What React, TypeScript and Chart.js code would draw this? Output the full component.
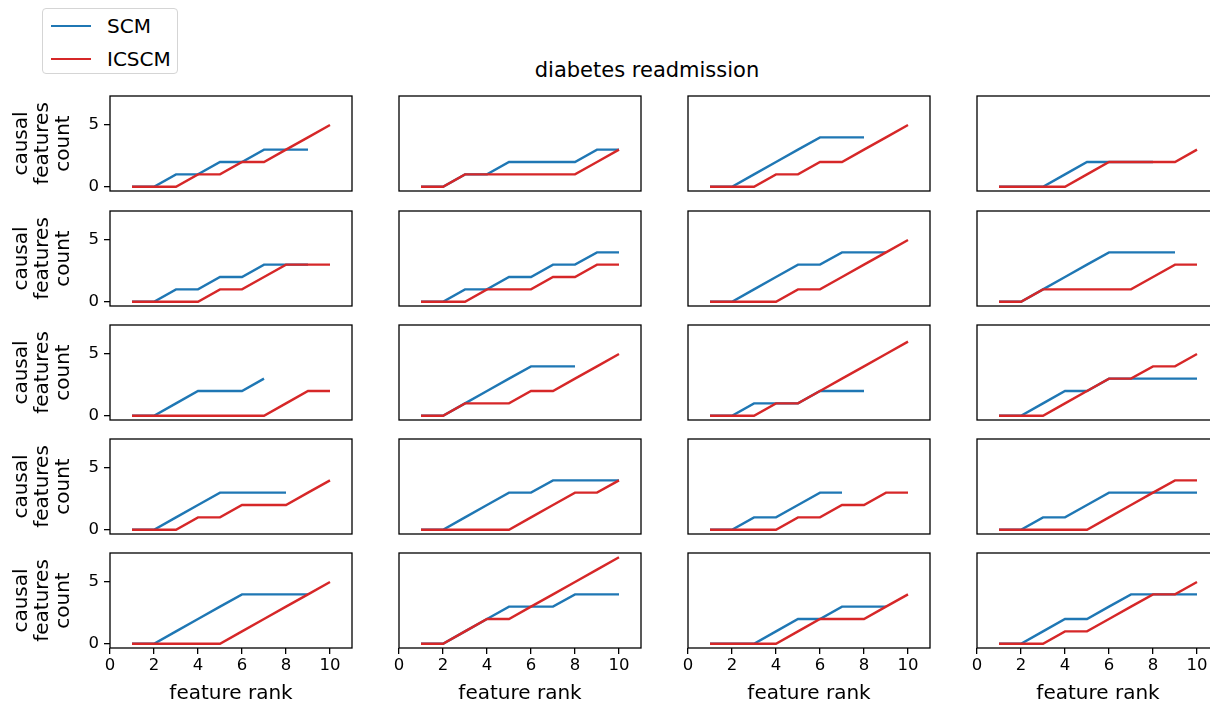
import React, { useEffect, useRef } from 'react';
import { Chart, registerables } from 'chart.js';

Chart.register(...registerables);

const FONT = "'DejaVu Sans', sans-serif";

const seriesNames = ['SCM', 'ICSCM'];
const seriesColors = ['#1f77b4', '#d62728'];
const chartTitle = 'diabetes readmission';
const xLabel = 'feature rank';
const yLabel = ['causal', 'features', 'count'];
const xTicks = [0, 2, 4, 6, 8, 10];
const yTicks = [0, 5];

// SCM series, panels in row-major order (5 rows x 4 columns), x = 1, 2, ...
const scmR1C1 = [0, 0, 1, 1, 2, 2, 3, 3, 3];
const scmR1C2 = [0, 0, 1, 1, 2, 2, 2, 2, 3, 3];
const scmR1C3 = [0, 0, 1, 2, 3, 4, 4, 4];
const scmR1C4 = [0, 0, 0, 1, 2, 2, 2, 2];
const scmR2C1 = [0, 0, 1, 1, 2, 2, 3, 3, 3];
const scmR2C2 = [0, 0, 1, 1, 2, 2, 3, 3, 4, 4];
const scmR2C3 = [0, 0, 1, 2, 3, 3, 4, 4, 4];
const scmR2C4 = [0, 0, 1, 2, 3, 4, 4, 4, 4];
const scmR3C1 = [0, 0, 1, 2, 2, 2, 3];
const scmR3C2 = [0, 0, 1, 2, 3, 4, 4, 4];
const scmR3C3 = [0, 0, 1, 1, 1, 2, 2, 2];
const scmR3C4 = [0, 0, 1, 2, 2, 3, 3, 3, 3, 3];
const scmR4C1 = [0, 0, 1, 2, 3, 3, 3, 3];
const scmR4C2 = [0, 0, 1, 2, 3, 3, 4, 4, 4, 4];
const scmR4C3 = [0, 0, 1, 1, 2, 3, 3];
const scmR4C4 = [0, 0, 1, 1, 2, 3, 3, 3, 3, 3];
const scmR5C1 = [0, 0, 1, 2, 3, 4, 4, 4, 4];
const scmR5C2 = [0, 0, 1, 2, 3, 3, 3, 4, 4, 4];
const scmR5C3 = [0, 0, 0, 1, 2, 2, 3, 3, 3];
const scmR5C4 = [0, 0, 1, 2, 2, 3, 4, 4, 4, 4];

// ICSCM series
const icR1C1 = [0, 0, 0, 1, 1, 2, 2, 3, 4, 5];
const icR1C2 = [0, 0, 1, 1, 1, 1, 1, 1, 2, 3];
const icR1C3 = [0, 0, 0, 1, 1, 2, 2, 3, 4, 5];
const icR1C4 = [0, 0, 0, 0, 1, 2, 2, 2, 2, 3];
const icR2C1 = [0, 0, 0, 0, 1, 1, 2, 3, 3, 3];
const icR2C2 = [0, 0, 0, 1, 1, 1, 2, 2, 3, 3];
const icR2C3 = [0, 0, 0, 0, 1, 1, 2, 3, 4, 5];
const icR2C4 = [0, 0, 1, 1, 1, 1, 1, 2, 3, 3];
const icR3C1 = [0, 0, 0, 0, 0, 0, 0, 1, 2, 2];
const icR3C2 = [0, 0, 1, 1, 1, 2, 2, 3, 4, 5];
const icR3C3 = [0, 0, 0, 1, 1, 2, 3, 4, 5, 6];
const icR3C4 = [0, 0, 0, 1, 2, 3, 3, 4, 4, 5];
const icR4C1 = [0, 0, 0, 1, 1, 2, 2, 2, 3, 4];
const icR4C2 = [0, 0, 0, 0, 0, 1, 2, 3, 3, 4];
const icR4C3 = [0, 0, 0, 0, 1, 1, 2, 2, 3, 3];
const icR4C4 = [0, 0, 0, 0, 0, 1, 2, 3, 4, 4];
const icR5C1 = [0, 0, 0, 0, 0, 1, 2, 3, 4, 5];
const icR5C2 = [0, 0, 1, 2, 2, 3, 4, 5, 6, 7];
const icR5C3 = [0, 0, 0, 0, 1, 2, 2, 2, 3, 4];
const icR5C4 = [0, 0, 0, 1, 1, 2, 3, 4, 4, 5];

const scmPanels = [
  scmR1C1, scmR1C2, scmR1C3, scmR1C4,
  scmR2C1, scmR2C2, scmR2C3, scmR2C4,
  scmR3C1, scmR3C2, scmR3C3, scmR3C4,
  scmR4C1, scmR4C2, scmR4C3, scmR4C4,
  scmR5C1, scmR5C2, scmR5C3, scmR5C4,
];
const icPanels = [
  icR1C1, icR1C2, icR1C3, icR1C4,
  icR2C1, icR2C2, icR2C3, icR2C4,
  icR3C1, icR3C2, icR3C3, icR3C4,
  icR4C1, icR4C2, icR4C3, icR4C4,
  icR5C1, icR5C2, icR5C3, icR5C4,
];

// layout (pixels)
const COLS = [110, 399, 688, 977];
const ROWS = [96, 211, 325, 439, 553];
const BOX_W = 242;
const BOX_H = 95;
const LEFT_W = 110;
const BOTTOM_H = 58;

const framePlugin = {
  id: 'frame',
  afterDraw(chart: any) {
    const { ctx, chartArea: a } = chart;
    ctx.save();
    ctx.strokeStyle = '#000';
    ctx.lineWidth = 1.3;
    ctx.strokeRect(a.left, a.top, a.right - a.left, a.bottom - a.top);
    ctx.restore();
  },
};

function Panel({ r, c }: { r: number; c: number }) {
  const ref = useRef<HTMLCanvasElement | null>(null);
  const isLeft = c === 0;
  const isBottom = r === ROWS.length - 1;
  const padL = isLeft ? 0 : 12;
  const padR = 4;
  const padT = 3;
  const padB = isBottom ? 0 : 3;
  const leftW = isLeft ? LEFT_W : 0;
  const bottomH = isBottom ? BOTTOM_H : 0;
  const width = padL + leftW + BOX_W + padR;
  const height = padT + BOX_H + bottomH + padB;
  const left = COLS[c] - leftW - padL;
  const top = ROWS[r] - padT;

  useEffect(() => {
    const idx = r * 4 + c;
    const toPts = (arr: number[]) => arr.map((v, i) => ({ x: i + 1, y: v }));
    const tickGrid = {
      display: true,
      drawOnChartArea: false,
      drawTicks: true,
      tickLength: 6,
      color: '#000',
      lineWidth: 1.3,
    };
    const chart = new Chart(ref.current as HTMLCanvasElement, {
      type: 'line',
      data: {
        datasets: [
          {
            label: seriesNames[0],
            data: toPts(scmPanels[idx]),
            borderColor: seriesColors[0],
            backgroundColor: seriesColors[0],
            borderWidth: 2.4,
            pointRadius: 0,
            tension: 0,
            fill: false,
            order: 1,
          },
          {
            label: seriesNames[1],
            data: toPts(icPanels[idx]),
            borderColor: seriesColors[1],
            backgroundColor: seriesColors[1],
            borderWidth: 2.4,
            pointRadius: 0,
            tension: 0,
            fill: false,
            order: 0,
          },
        ],
      },
      options: {
        animation: false,
        responsive: false,
        maintainAspectRatio: false,
        devicePixelRatio: 1,
        layout: { padding: { left: padL, right: padR, top: padT, bottom: padB } },
        plugins: { legend: { display: false }, tooltip: { enabled: false }, title: { display: false } },
        events: [],
        scales: {
          x: {
            type: 'linear',
            min: 0,
            max: 11,
            display: isBottom,
            afterBuildTicks: (s: any) => {
              s.ticks = xTicks.map((v) => ({ value: v }));
            },
            afterFit: (s: any) => {
              if (!isBottom) return;
              s.height = BOTTOM_H;
              s.paddingLeft = 0;
              s.paddingRight = 0;
            },
            ticks: {
              font: { family: FONT, size: 16.5 },
              color: '#000',
              padding: 2,
              maxRotation: 0,
              autoSkip: false,
            },
            grid: tickGrid,
            border: { display: false },
            title: {
              display: true,
              text: xLabel,
              color: '#000',
              font: { family: FONT, size: 20 },
              padding: { top: 0, bottom: 0 },
            },
          },
          y: {
            type: 'linear',
            min: -0.35,
            max: 7.35,
            display: isLeft,
            afterBuildTicks: (s: any) => {
              s.ticks = yTicks.map((v) => ({ value: v }));
            },
            afterFit: (s: any) => {
              if (!isLeft) return;
              s.width = LEFT_W;
              s.paddingTop = 0;
              s.paddingBottom = 0;
            },
            ticks: {
              font: { family: FONT, size: 16.5 },
              color: '#000',
              padding: 5,
              autoSkip: false,
            },
            grid: tickGrid,
            border: { display: false },
            title: {
              display: true,
              text: yLabel,
              color: '#000',
              font: { family: FONT, size: 20, lineHeight: '21px' },
              padding: { top: 11, bottom: 0 },
            },
          },
        },
      },
      plugins: [framePlugin],
    } as any);
    return () => chart.destroy();
  }, [r, c]);

  return (
    <canvas
      ref={ref}
      width={width}
      height={height}
      style={{ position: 'absolute', left, top, width, height }}
    />
  );
}

export default function App() {
  const panels: React.ReactNode[] = [];
  for (let r = 0; r < ROWS.length; r++) {
    for (let c = 0; c < COLS.length; c++) {
      panels.push(<Panel key={`${r}-${c}`} r={r} c={c} />);
    }
  }
  return (
    <div
      style={{
        position: 'fixed',
        left: 0,
        top: 0,
        width: 1210,
        height: 706,
        overflow: 'hidden',
        background: '#fff',
        fontFamily: FONT,
      }}
    >
      {panels}
      <div
        style={{
          position: 'absolute',
          left: 447,
          width: 400,
          top: 58,
          textAlign: 'center',
          fontSize: 21,
          lineHeight: '24px',
          color: '#000',
        }}
      >
        {chartTitle}
      </div>
      <div
        style={{
          position: 'absolute',
          left: 42,
          top: 8,
          width: 136,
          height: 66,
          boxSizing: 'border-box',
          border: '1.3px solid #d5d5d5',
          borderRadius: 4,
          background: 'rgba(255,255,255,0.8)',
        }}
      >
        {seriesNames.map((name, i) => (
          <div key={name}>
            <div
              style={{
                position: 'absolute',
                left: 8,
                top: 17 + i * 33 - 1.2,
                width: 40,
                height: 2.4,
                background: seriesColors[i],
              }}
            />
            <div
              style={{
                position: 'absolute',
                left: 64,
                top: 17 + i * 33 - 12,
                fontSize: 20,
                lineHeight: '24px',
                color: '#000',
                whiteSpace: 'nowrap',
              }}
            >
              {name}
            </div>
          </div>
        ))}
      </div>
    </div>
  );
}
